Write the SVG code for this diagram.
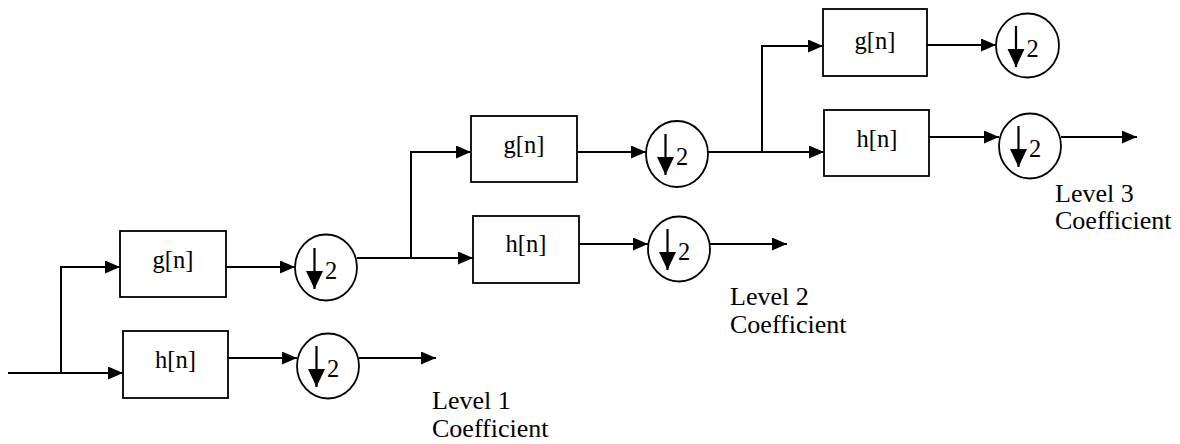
<svg xmlns="http://www.w3.org/2000/svg" width="1180" height="444" viewBox="0 0 1180 444">
<style>
.box{fill:#fff;stroke:#000;stroke-width:1.8}
.ds{fill:#fff;stroke:#000;stroke-width:1.8}
.ln{fill:none;stroke:#000;stroke-width:2}
.dn{fill:none;stroke:#000;stroke-width:2.2}
text{font-family:'Liberation Serif','Times New Roman',Times,'Nimbus Roman','Nimbus Roman No9 L','Noto Serif','DejaVu Serif',FreeSerif,Tinos,serif;fill:#000}
.t{font-size:24.5px}
.lb{font-size:26px}
</style>
<defs>
<marker id="ah" markerUnits="userSpaceOnUse" markerWidth="16" markerHeight="14" refX="15" refY="6.5" orient="auto">
<path d="M0,0 L15,6.5 L0,13 z" fill="#000"/>
</marker>
<marker id="dh" markerUnits="userSpaceOnUse" markerWidth="19" markerHeight="18" refX="18" refY="8.5" orient="auto">
<path d="M0,0 L18,8.5 L0,17 z" fill="#000"/>
</marker>
</defs>
<rect width="1180" height="444" fill="#fff"/>

<g id="connectors">
<polyline class="ln" points="8,373 123,373" marker-end="url(#ah)"/>
<polyline class="ln" points="61,373 61,267 120,267" marker-end="url(#ah)"/>
<line class="ln" x1="226" y1="267" x2="295" y2="267" marker-end="url(#ah)"/>
<line class="ln" x1="228" y1="358" x2="297" y2="358" marker-end="url(#ah)"/>
<line class="ln" x1="359" y1="358" x2="436" y2="358" marker-end="url(#ah)"/>
<line class="ln" x1="357" y1="258" x2="473" y2="258" marker-end="url(#ah)"/>
<polyline class="ln" points="411,258 411,152 471,152" marker-end="url(#ah)"/>
<line class="ln" x1="577" y1="152" x2="646" y2="152" marker-end="url(#ah)"/>
<line class="ln" x1="579" y1="244" x2="648" y2="244" marker-end="url(#ah)"/>
<line class="ln" x1="710" y1="244" x2="787" y2="244" marker-end="url(#ah)"/>
<line class="ln" x1="708" y1="152" x2="824" y2="152" marker-end="url(#ah)"/>
<polyline class="ln" points="762,152 762,46 823,46" marker-end="url(#ah)"/>
<line class="ln" x1="927" y1="45" x2="996" y2="45" marker-end="url(#ah)"/>
<line class="ln" x1="929" y1="137" x2="999" y2="137" marker-end="url(#ah)"/>
<line class="ln" x1="1061" y1="137" x2="1137" y2="137" marker-end="url(#ah)"/>
</g>

<g id="g1"><rect class="box" x="120" y="231" width="106" height="66"/><text class="t" x="173" y="268" text-anchor="middle">g[n]</text></g>
<g id="h1"><rect class="box" x="123" y="331" width="105" height="67"/><text class="t" x="175.5" y="368" text-anchor="middle">h[n]</text></g>
<g id="dg1"><ellipse class="ds" cx="326" cy="267.5" rx="31" ry="33"/><line class="dn" x1="314.5" y1="248" x2="314.5" y2="289" marker-end="url(#dh)"/><text class="t" x="325" y="279">2</text></g>
<g id="dh1"><ellipse class="ds" cx="328" cy="366" rx="31" ry="32.5"/><line class="dn" x1="316.5" y1="346" x2="316.5" y2="387" marker-end="url(#dh)"/><text class="t" x="327" y="377">2</text></g>
<g id="lbl1"><text class="lb" x="432" y="409">Level 1</text><text class="lb" x="432" y="437">Coefficient</text></g>

<g id="g2"><rect class="box" x="471" y="116" width="106" height="66"/><text class="t" x="524" y="153" text-anchor="middle">g[n]</text></g>
<g id="h2"><rect class="box" x="473" y="216" width="106" height="67"/><text class="t" x="526" y="252" text-anchor="middle">h[n]</text></g>
<g id="dg2"><ellipse class="ds" cx="677" cy="154" rx="31" ry="33"/><line class="dn" x1="665.5" y1="134" x2="665.5" y2="175" marker-end="url(#dh)"/><text class="t" x="676" y="165">2</text></g>
<g id="dh2"><ellipse class="ds" cx="679" cy="249" rx="31" ry="32.5"/><line class="dn" x1="667.5" y1="229" x2="667.5" y2="270" marker-end="url(#dh)"/><text class="t" x="678" y="260">2</text></g>
<g id="lbl2"><text class="lb" x="730" y="305">Level 2</text><text class="lb" x="730" y="333">Coefficient</text></g>

<g id="g3"><rect class="box" x="823" y="9" width="104" height="67"/><text class="t" x="875" y="49" text-anchor="middle">g[n]</text></g>
<g id="h3"><rect class="box" x="824" y="110" width="105" height="66"/><text class="t" x="877" y="147" text-anchor="middle">h[n]</text></g>
<g id="dg3"><ellipse class="ds" cx="1027.5" cy="45.5" rx="31.5" ry="32"/><line class="dn" x1="1016" y1="26" x2="1016" y2="67" marker-end="url(#dh)"/><text class="t" x="1026.5" y="57">2</text></g>
<g id="dh3"><ellipse class="ds" cx="1030" cy="146" rx="31" ry="32.5"/><line class="dn" x1="1018.5" y1="126" x2="1018.5" y2="167" marker-end="url(#dh)"/><text class="t" x="1029" y="157">2</text></g>
<g id="lbl3"><text class="lb" x="1055" y="202">Level 3</text><text class="lb" x="1055" y="229">Coefficient</text></g>
</svg>
